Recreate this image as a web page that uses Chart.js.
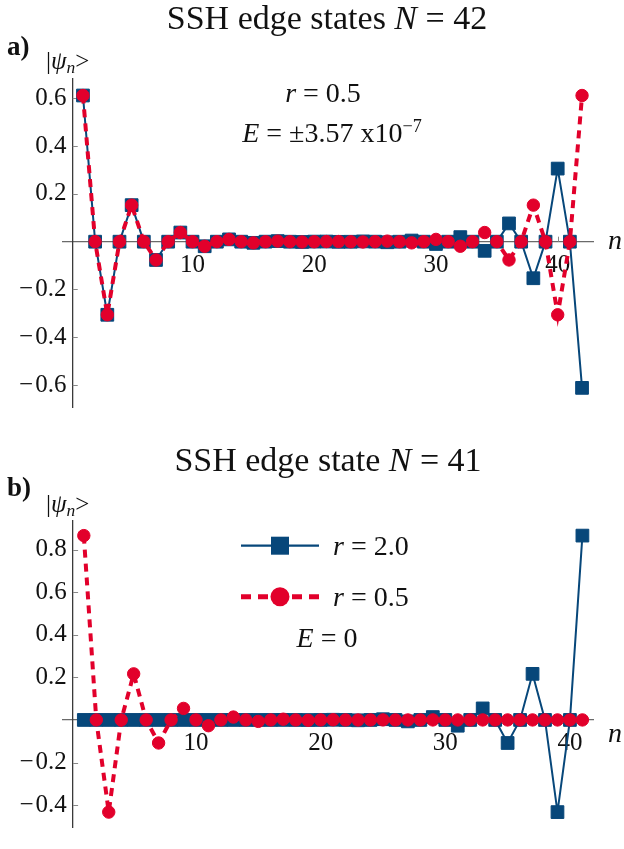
<!DOCTYPE html>
<html><head><meta charset="utf-8">
<script src="https://cdn.jsdelivr.net/npm/chart.js@4.4.1/dist/chart.umd.min.js"></script>
<style>
html,body{margin:0;padding:0;background:#fff;}
body{width:624px;height:849px;position:relative;overflow:hidden;font-family:"Liberation Serif",serif;color:#111;}
canvas{position:absolute;left:0;}
.t{position:absolute;white-space:nowrap;line-height:1;transform:translate(-50%,-50%);}
.l{position:absolute;white-space:nowrap;line-height:1;transform:translate(0,-50%);}
sup{font-size:65%;vertical-align:0.55em;line-height:0;}
sub{font-size:70%;vertical-align:-0.25em;line-height:0;}
</style></head><body>
<canvas id="ca" width="624" height="430" style="top:0px"></canvas>
<canvas id="cb" width="624" height="419" style="top:430px"></canvas>

<div class="t" style="left:327px;top:18px;font-size:34px;">SSH edge states <i>N</i> = 42</div>
<div class="l" style="left:7px;top:46px;font-size:27px;font-weight:bold;">a)</div>
<div class="l" style="left:46px;top:60px;font-size:25px;">|<i>ψ<sub>n</sub></i>&gt;</div>
<div class="t" style="left:323px;top:93px;font-size:28px;"><i>r</i> = 0.5</div>
<div class="t" style="left:332px;top:133px;font-size:28px;"><i>E</i> = ±3.57 x10<sup>−7</sup></div>
<div class="t" style="left:615px;top:240px;font-size:28px;"><i>n</i></div>

<div class="t" style="left:328px;top:460px;font-size:34px;">SSH edge state <i>N</i> = 41</div>
<div class="l" style="left:7px;top:487px;font-size:27px;font-weight:bold;">b)</div>
<div class="l" style="left:46px;top:503px;font-size:25px;">|<i>ψ<sub>n</sub></i>&gt;</div>
<div class="l" style="left:333px;top:546px;font-size:28px;"><i>r</i> = 2.0</div>
<div class="l" style="left:333px;top:597px;font-size:28px;"><i>r</i> = 0.5</div>
<div class="t" style="left:327px;top:638px;font-size:28px;"><i>E</i> = 0</div>
<div class="t" style="left:615px;top:733px;font-size:28px;"><i>n</i></div>

<script>
// ---------- data ----------
const nA = [1,2,3,4,5,6,7,8,9,10,11,12,13,14,15,16,17,18,19,20,21,22,23,24,25,26,27,28,29,30,31,32,33,34,35,36,37,38,39,40,41,42];
const blueA = [0.612,0,-0.306,0,0.153,0,-0.0765,0,0.0383,0,-0.0191,0,0.0096,0,-0.0048,0.0001,0.0024,-0.0001,-0.0012,0.0003,0.0006,-0.0006,-0.0003,0.0012,0.0001,-0.0024,-0.0001,0.0048,0,-0.0096,0,0.0191,0,-0.0383,0,0.0765,0,-0.153,0,0.306,0,-0.612];
const redA  = [0.612,0,-0.306,0,0.153,0,-0.0765,0,0.0383,0,-0.0191,0,0.0096,0,-0.0048,-0.0001,0.0024,0.0001,-0.0012,-0.0003,0.0006,0.0006,-0.0003,-0.0012,0.0001,0.0024,-0.0001,-0.0048,0,0.0096,0,-0.0191,0,0.0383,0,-0.0765,0,0.153,0,-0.306,0,0.612];

const nB = [1,2,3,4,5,6,7,8,9,10,11,12,13,14,15,16,17,18,19,20,21,22,23,24,25,26,27,28,29,30,31,32,33,34,35,36,37,38,39,40,41];
const blueB = [0,0,0,0,0,0,0,0,0,0,0,0,0,0,-0.0001,0,0.0002,0,-0.0004,0,0.0008,0,-0.0017,0,0.0034,0,-0.0068,0,0.0135,0,-0.0271,0,0.0541,0,-0.1083,0,0.2165,0,-0.433,0,0.866];
const redB  = [0.866,0,-0.433,0,0.2165,0,-0.1083,0,0.0541,0,-0.0271,0,0.0135,0,-0.0068,0,0.0034,0,-0.0017,0,0.0008,0,-0.0004,0,0.0002,0,-0.0001,0,0,0,0,0,0,0,0,0,0,0,0,0,0];

const xTicks = [10,20,30,40];
const yTicksA = [-0.6,-0.4,-0.2,0.2,0.4,0.6];
const yTicksB = [-0.4,-0.2,0.2,0.4,0.6,0.8];

// ---------- styles ----------
const BLUE = '#07477a';
const RED = '#e2002b';
const FONT = 'Liberation Serif';

function fmt(v){ return (v < 0 ? '\u2212\u200A' + Math.abs(v).toFixed(1) : v.toFixed(1)) + '\u2005'; }
function pts(xs, ys){ return xs.map((x,i)=>({x:x, y:ys[i]})); }

const tickMarks = {
  id:'tickMarks',
  beforeDatasetsDraw(chart){
    const {ctx, scales:{x, y}} = chart;
    const y0 = y.getPixelForValue(0);
    const xAxisVal = chart.options.scales.y.position.x;
    const x0 = x.getPixelForValue(xAxisVal);
    ctx.save();
    ctx.strokeStyle = '#888'; ctx.lineWidth = 1;
    x.ticks.forEach(t=>{ const p = Math.round(x.getPixelForValue(t.value))+0.5; ctx.beginPath(); ctx.moveTo(p,y0); ctx.lineTo(p,y0-5); ctx.stroke(); });
    y.ticks.forEach(t=>{ const p = Math.round(y.getPixelForValue(t.value))+0.5; ctx.beginPath(); ctx.moveTo(x0,p); ctx.lineTo(x0+5,p); ctx.stroke(); });
    ctx.restore();
  }
};

const legendB = {
  id:'legendB',
  afterDatasetsDraw(chart){
    const ctx = chart.ctx;
    ctx.save();
    ctx.strokeStyle = BLUE; ctx.lineWidth = 2.2;
    ctx.beginPath(); ctx.moveTo(241,115.7); ctx.lineTo(319,115.7); ctx.stroke();
    ctx.fillStyle = BLUE; ctx.fillRect(271,106.7,18,18);
    ctx.strokeStyle = RED; ctx.lineWidth = 5; ctx.setLineDash([10,7]);
    ctx.beginPath(); ctx.moveTo(241,166.7); ctx.lineTo(319,166.7); ctx.stroke();
    ctx.setLineDash([]);
    ctx.fillStyle = RED; ctx.beginPath(); ctx.arc(280,166.7,9.5,0,Math.PI*2); ctx.fill();
    ctx.restore();
  }
};

function makeChart(id, xs, blue, red, xmin, xmax, ymin, ymax, yAxisAt, yTicks, pad, plugins){
  return new Chart(document.getElementById(id), {
    type:'line',
    data:{ datasets:[
      { data: pts(xs, blue), borderColor: BLUE, borderWidth: 2, backgroundColor: BLUE,
        pointStyle:'rect', pointRadius: 9, pointBorderWidth: 1, pointBorderColor: BLUE, pointBackgroundColor: BLUE,
        tension: 0, order: 2, clip: false },
      { data: pts(xs, red), borderColor: RED, borderWidth: 4, borderDash:[8,6], backgroundColor: RED,
        pointStyle:'circle', pointRadius: 6.2, pointBorderWidth: 1, pointBorderColor: RED, pointBackgroundColor: RED,
        tension: 0, order: 1, clip: false }
    ]},
    options:{
      responsive:false, animation:false, devicePixelRatio:1,
      layout:{ padding: pad },
      plugins:{ legend:{display:false}, tooltip:{enabled:false}, title:{display:false} },
      events: [],
      scales:{
        x:{ type:'linear', min:xmin, max:xmax, position:{y:0},
            afterFit(s){ s.height = 0; },
            afterBuildTicks(s){ s.ticks = xTicks.map(v=>({value:v})); },
            ticks:{ padding:9, autoSkip:false, maxRotation:0, color:'#111', font:{family:FONT, size:25}, callback:(v)=>String(v) },
            grid:{ display:true, drawOnChartArea:false, drawTicks:false },
            border:{ display:true, color:'#6a6a6a', width:1.3 } },
        y:{ type:'linear', min:ymin, max:ymax, position:{x:yAxisAt},
            afterFit(s){ s.width = 0; },
            afterBuildTicks(s){ s.ticks = yTicks.map(v=>({value:v})); },
            ticks:{ padding:7, autoSkip:false, color:'#111', font:{family:FONT, size:25}, callback:(v)=>fmt(v) },
            grid:{ display:true, drawOnChartArea:false, drawTicks:false },
            border:{ display:true, color:'#3a3a3a', width:1.3 } }
      }
    },
    plugins: plugins
  });
}

makeChart('ca', nA, blueA, redA, -0.64, 42.9, -0.695, 0.684, 0.16, yTicksA,
  {left:63, right:31, top:78.3, bottom:22.3}, [tickMarks]);
makeChart('cb', nB, blueB, redB, -0.67, 41.85, -0.503, 0.936, 0.14, yTicksB,
  {left:63, right:31, top:90.7, bottom:2.3}, [tickMarks, legendB]);
</script>
</body></html>
